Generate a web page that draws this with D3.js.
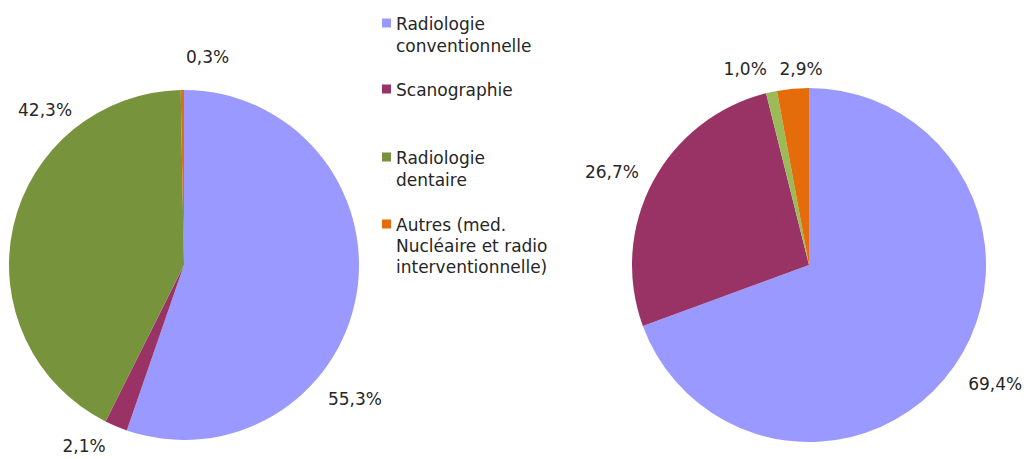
<!DOCTYPE html>
<html>
<head>
<meta charset="utf-8">
<script src="https://cdn.jsdelivr.net/npm/d3@7"></script>
<style>
  html, body { margin: 0; padding: 0; background: #ffffff; }
  svg { display: block; }
  text { font-family: "DejaVu Sans", Verdana, sans-serif; fill: #262626; }
</style>
</head>
<body>
<svg id="chart" width="1029" height="459"></svg>
<script>
// ---- Data ----
const categories = [
  "Radiologie conventionnelle",
  "Scanographie",
  "Radiologie dentaire",
  "Autres (med. Nucléaire et radio interventionnelle)"
];
const legendLines = [
  ["Radiologie", "conventionnelle"],
  ["Scanographie"],
  ["Radiologie", "dentaire"],
  ["Autres (med.", "Nucléaire et radio", "interventionnelle)"]
];
const leftValues  = [55.3, 2.1, 42.3, 0.3];
const rightValues = [69.4, 26.7, 1.0, 2.9];
const leftLabels  = ["55,3%", "2,1%", "42,3%", "0,3%"];
const rightLabels = ["69,4%", "26,7%", "1,0%", "2,9%"];

// ---- Styles / layout ----
const legendColors = ["#9999ff", "#993366", "#77933c", "#e46c0a"];
const leftColors   = ["#9999ff", "#993366", "#77933c", "#e46c0a"];
const rightColors  = ["#9999ff", "#993366", "#9bbb59", "#e46c0a"];
// label placement: angle nudge (deg) from slice mid-angle, distance from centre
const leftLabelNudge  = [{a: 28.5, d: 217}, {a: 6, d: 207}, {a: 35.3, d: 208}, {a: 7, d: 209}];
const rightLabelNudge = [{a: -2.3, d: 221}, {a: -2.6, d: 218}, {a: -5.8, d: 206}, {a: 2.9, d: 196}];

const svg = d3.select("#chart");

function drawPie(values, colors, labels, nudges, cx, cy, r) {
  const g = svg.append("g").attr("transform", `translate(${cx},${cy})`);
  const pie = d3.pie().sort(null).value(d => d);
  const arcs = pie(values);
  const arc = d3.arc().innerRadius(0).outerRadius(r);
  g.selectAll("path.slice")
    .data(arcs)
    .join("path")
    .attr("class", "slice")
    .attr("d", arc)
    .attr("fill", (d, i) => colors[i]);
  g.selectAll("text.lbl")
    .data(arcs)
    .join("text")
    .attr("class", "lbl")
    .attr("text-anchor", "middle")
    .attr("dy", "0.36em")
    .attr("font-size", 17)
    .attr("x", (d, i) => {
      const a = (d.startAngle + d.endAngle) / 2 + nudges[i].a * Math.PI / 180;
      return Math.sin(a) * nudges[i].d;
    })
    .attr("y", (d, i) => {
      const a = (d.startAngle + d.endAngle) / 2 + nudges[i].a * Math.PI / 180;
      return -Math.cos(a) * nudges[i].d;
    })
    .text((d, i) => labels[i]);
}

drawPie(leftValues, leftColors, leftLabels, leftLabelNudge, 184, 265, 175);
drawPie(rightValues, rightColors, rightLabels, rightLabelNudge, 809, 265, 177);

// ---- Legend ----
const legendBaselines = [[30, 51.5], [96], [164, 185.5], [231, 252, 273]];
const legend = svg.append("g");
categories.forEach((c, i) => {
  const lines = legendLines[i];
  const b = legendBaselines[i];
  legend.append("rect")
    .attr("x", 382).attr("y", b[0] - 11.5)
    .attr("width", 9).attr("height", 9)
    .attr("fill", legendColors[i]);
  const t = legend.append("text")
    .attr("font-size", 17);
  lines.forEach((ln, j) => {
    t.append("tspan").attr("x", 396).attr("y", b[j]).text(ln);
  });
});
</script>
</body>
</html>
